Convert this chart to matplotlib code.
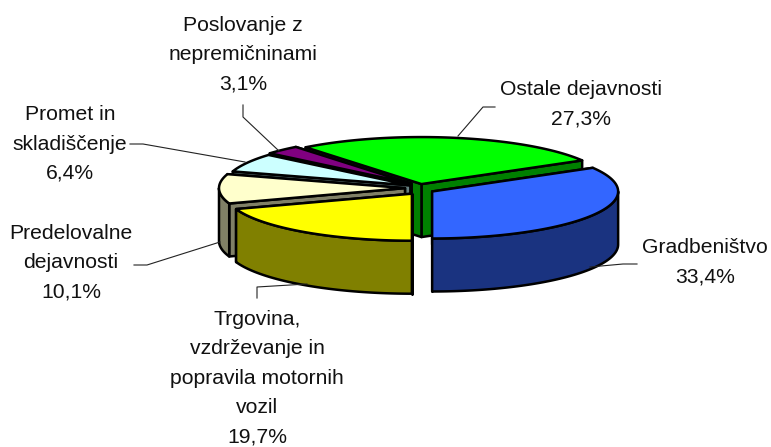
import numpy as np
import matplotlib
matplotlib.use('Agg')
import matplotlib.pyplot as plt

plt.rcParams['font.family'] = ['Liberation Sans', 'DejaVu Sans']

# wedges go counter clockwise from 6 o'clock
names = ['Gradbeništvo', 'Ostale dejavnosti', 'Poslovanje z\nnepremičninami',
         'Promet in\nskladiščenje', 'Predelovalne\ndejavnosti',
         'Trgovina,\nvzdrževanje in\npopravila motornih\nvozil']
shares = [33.4, 27.3, 3.1, 6.4, 10.1, 19.7]
explode = [14, 8, 12, 11, 15, 14]
top_colors = ['#3366FF', '#00FF00', '#800080', '#CCFFFF', '#FFFFCC', '#FFFF00']
side_colors = ['#1A3380', '#008000', '#400040', '#668080', '#808066', '#808000']

label_pos = [(705, 262.5), (581, 104.5), (243, 55), (70, 144), (71, 263), (257, 378)]
leaders = [[(590, 267), (623, 264), (637, 264)], [(458, 136), (483, 107), (495, 107)],
           [(279, 151), (243, 117), (243, 105)], [(245, 162), (143, 144), (130, 144)],
           [(220, 242), (147, 265), (134, 265)], [(307, 284), (257, 287), (257, 298)]]

cx, cy = 420, 188
rx, ry = 186, 47
depth = 53

fig = plt.figure(figsize=(7.71, 4.47), dpi=100)
ax = fig.add_axes([0, 0, 1, 1])
ax.set_xlim(0, 771)
ax.set_ylim(447, 0)
ax.axis('off')


def rim(x0, y0, a, b):
    t = np.radians(np.linspace(a, b, 80))
    return x0 + rx * np.cos(t), y0 - ry * np.sin(t)


angles = -90 + np.cumsum([0] + shares) * 3.6
edge = dict(edgecolor='black', linewidth=1.8, joinstyle='round')

for pts in leaders:
    xs, ys = zip(*pts)
    ax.plot(xs, ys, color='#222222', linewidth=0.8)

# back wedges first, blue one sits in front of everything
for i in [1, 2, 3, 4, 5, 0]:
    a, b = angles[i], angles[i + 1]
    mid = np.radians((a + b) / 2)
    x0 = cx + explode[i] * np.cos(mid)
    y0 = cy - explode[i] * np.sin(mid) * 0.5

    # cut faces
    for ang in (a, b):
        ex, ey = rim(x0, y0, ang, ang)
        ax.fill([x0, ex[0], ex[0], x0], [y0, ey[0], ey[0] + depth, y0 + depth],
                facecolor=side_colors[i], **edge)

    # outer wall, only the front half shows
    lo = max(a, -180) if a < 0 else max(a, 180)
    hi = min(b, 0) if a < 0 else min(b, 360)
    if hi > lo:
        wx, wy = rim(x0, y0, lo, hi)
        ax.fill(np.r_[wx, wx[::-1]], np.r_[wy, wy[::-1] + depth],
                facecolor=side_colors[i], **edge)

    tx, ty = rim(x0, y0, a, b)
    ax.fill(np.r_[x0, tx], np.r_[y0, ty], facecolor=top_colors[i], **edge)

for name, share, (lx, ly) in zip(names, shares, label_pos):
    pct = f'{share:.1f}'.replace('.', ',') + '%'
    ax.text(lx, ly, name + '\n' + pct, ha='center', va='center',
            fontsize=15.2, linespacing=1.69, color='#111111')

fig.savefig('out.png', dpi=100)
